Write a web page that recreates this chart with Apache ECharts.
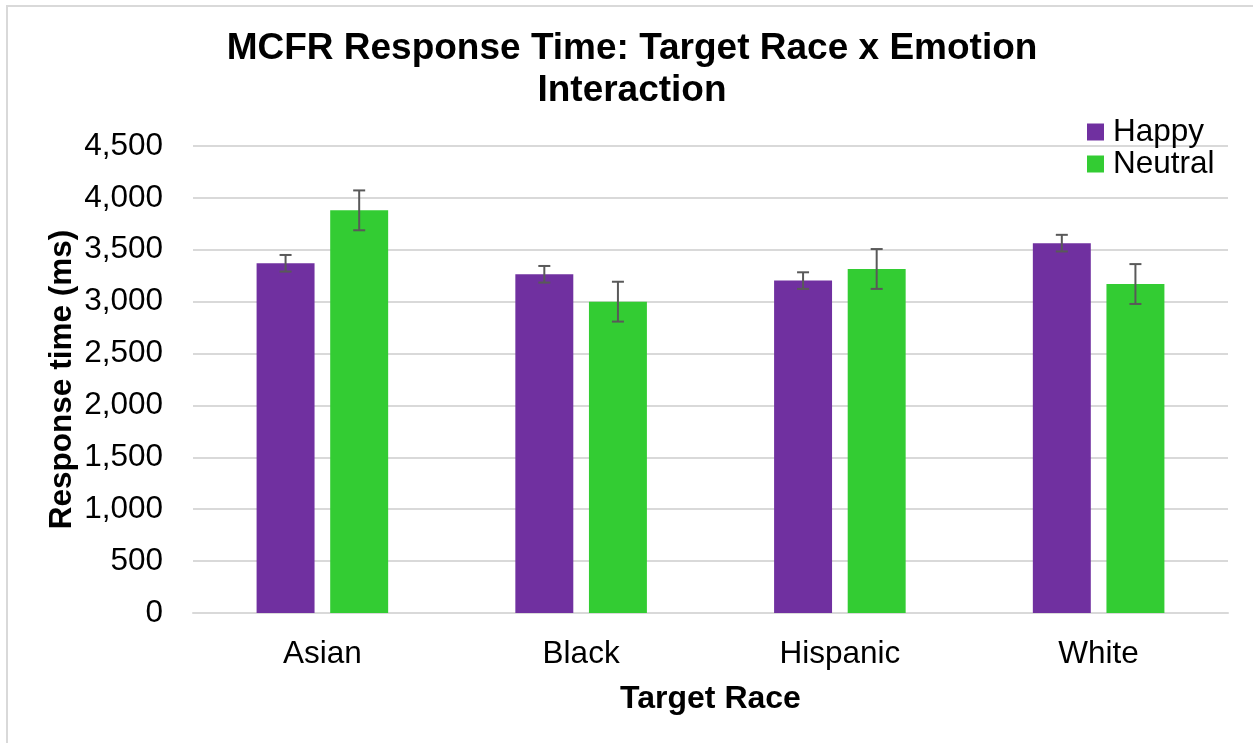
<!DOCTYPE html>
<html>
<head>
<meta charset="utf-8">
<title>MCFR Response Time</title>
<script src="https://cdn.jsdelivr.net/npm/echarts@6/dist/echarts.min.js"></script>
<style>
  html, body { margin: 0; padding: 0; background: #fff; }
  #main { width: 1253px; height: 743px; }
</style>
</head>
<body>
<div id="main"></div>
<script>
// data
var races = ['Asian', 'Black', 'Hispanic', 'White'];
var happy = [3370, 3264, 3203, 3564];
var neutral = [3880, 3000, 3315, 3170];
var happyErr = [80, 80, 80, 80];
var neutralErr = [192, 192, 192, 192];

var BAR_W = 0.224; // share of the category band
var BAR_GAP = 0.27; // share of a bar width

var chart = echarts.init(document.getElementById('main'));

// error bars, side = -1 for Happy, +1 for Neutral
function errorBars(side) {
  return function (params, api) {
    var i = api.value(0);
    var hi = api.coord([i, api.value(2)]);
    var lo = api.coord([i, api.value(1)]);
    var band = api.size([1, 0])[0];
    var off = side * band * BAR_W * (1 + BAR_GAP) / 2;
    var x = hi[0] + off;
    var style = { stroke: '#595959', lineWidth: 2 };
    return {
      type: 'group',
      children: [
        { type: 'line', shape: { x1: x, y1: hi[1], x2: x, y2: lo[1] }, style: style },
        { type: 'line', shape: { x1: x - 6, y1: hi[1], x2: x + 6, y2: hi[1] }, style: style },
        { type: 'line', shape: { x1: x - 6, y1: lo[1], x2: x + 6, y2: lo[1] }, style: style }
      ]
    };
  };
}

function errData(vals, errs) {
  return vals.map(function (v, i) { return [i, v - errs[i], v + errs[i]]; });
}

var font = 'Arial, "Liberation Sans", sans-serif';

var option = {
  animation: false,
  textStyle: { fontFamily: font },
  graphic: [{
    type: 'rect',
    shape: { x: 7, y: 6, width: 1300, height: 800 },
    style: { fill: 'none', stroke: '#d9d9d9', lineWidth: 2 },
    silent: true
  }],
  title: {
    text: 'MCFR Response Time: Target Race x Emotion\nInteraction',
    left: 632,
    textAlign: 'center',
    top: 28,
    padding: 0,
    textStyle: { fontSize: 37, fontWeight: 'bold', color: '#000', lineHeight: 42, fontFamily: font }
  },
  legend: {
    orient: 'vertical',
    left: 1082,
    top: 111,
    itemWidth: 17,
    itemHeight: 17,
    itemGap: 0,
    icon: 'rect',
    data: ['Happy', 'Neutral'],
    textStyle: { fontSize: 31.5, color: '#000', padding: [3, 0, 0, 4], fontFamily: font }
  },
  grid: { left: 193, right: 25, top: 146, bottom: 130 },
  xAxis: {
    type: 'category',
    data: races,
    name: 'Target Race',
    nameLocation: 'middle',
    nameGap: 70,
    nameTextStyle: { fontSize: 32, fontWeight: 'bold', color: '#000', fontFamily: font },
    axisLine: { lineStyle: { color: '#d9d9d9', width: 2 } },
    axisTick: { show: false },
    axisLabel: { fontSize: 31.5, color: '#000', margin: 25, fontFamily: font }
  },
  yAxis: {
    type: 'value',
    min: 0,
    max: 4500,
    interval: 500,
    name: 'Response time (ms)',
    nameLocation: 'middle',
    nameGap: 115,
    nameMoveOverlap: false,
    nameTextStyle: { fontSize: 31.5, fontWeight: 'bold', color: '#000', fontFamily: font },
    axisLine: { show: false },
    axisTick: { show: false },
    axisLabel: {
      fontSize: 31.5, color: '#000', margin: 30, fontFamily: font,
      formatter: function (v) { return v.toLocaleString('en-US'); }
    },
    splitLine: { lineStyle: { color: '#d9d9d9', width: 2 } }
  },
  series: [
    {
      name: 'Happy',
      type: 'bar',
      data: happy,
      barWidth: (BAR_W * 100) + '%',
      barGap: (BAR_GAP * 100) + '%',
      itemStyle: { color: '#7030a0' }
    },
    {
      name: 'Neutral',
      type: 'bar',
      data: neutral,
      barWidth: (BAR_W * 100) + '%',
      barGap: (BAR_GAP * 100) + '%',
      itemStyle: { color: '#33cc33' }
    },
    {
      type: 'custom',
      renderItem: errorBars(-1),
      data: errData(happy, happyErr),
      encode: { x: 0, y: [1, 2] },
      z: 10,
      silent: true
    },
    {
      type: 'custom',
      renderItem: errorBars(1),
      data: errData(neutral, neutralErr),
      encode: { x: 0, y: [1, 2] },
      z: 10,
      silent: true
    }
  ]
};

chart.setOption(option);
</script>
</body>
</html>
